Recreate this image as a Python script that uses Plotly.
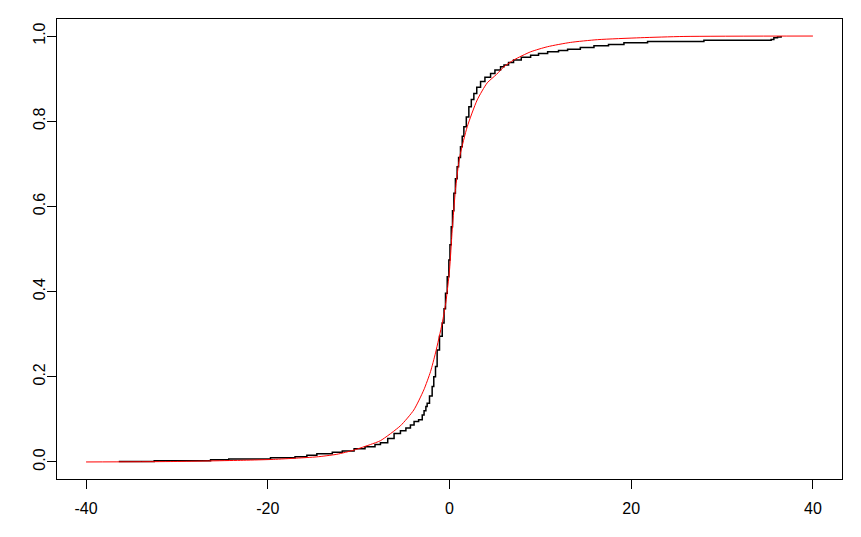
import plotly.graph_objects as go

# Fitted CDF (red)
fit_x = [-40, -30.7, -22.7, -19.4, -16.8, -14.6, -12.4, -10.5, -8.7, -7.6, -5.4, -3.93,
         -2.83, -2.09, -1.54, -0.8, -0.4, 0.0, 0.3, 0.66, 1.0, 1.21, 1.95, 3.05, 4.15,
         5.18, 6.0, 7.09, 8.93, 10.8, 13.3, 16.3, 21.0, 25.8, 40.0]
fit_y = [0.000, 0.001, 0.004, 0.006, 0.009, 0.012, 0.018, 0.028, 0.041, 0.050, 0.085, 0.122,
         0.169, 0.212, 0.256, 0.326, 0.375, 0.450, 0.545, 0.640, 0.700, 0.725, 0.787, 0.850, 0.890,
         0.910, 0.928, 0.944, 0.963, 0.975, 0.985, 0.9915, 0.996, 0.999, 1.000]

ecdf_x = [-36.4, -32.5, -26.3, -24.3, -19.7, -17.0, -15.7, -14.6, -12.9, -11.8, -10.5, -9.3,
          -8.2, -7.6, -6.8, -6.1, -5.4, -4.8, -4.3, -3.9, -3.4, -3.0, -2.8, -2.6, -2.46,
          -2.2, -1.91, -1.73, -1.54, -1.36, -1.1, -0.8, -0.6, -0.44, -0.25, -0.07, 0.05,
          0.19, 0.33, 0.48, 0.65, 0.84, 1.0, 1.21, 1.4, 1.58, 1.85, 2.13, 2.4, 2.68, 3.0,
          3.42, 3.9, 4.52, 5.0, 5.62, 6.0, 6.5, 7.05, 7.9, 8.93, 9.8, 10.8, 12.0, 13.0,
          14.4, 15.9, 17.5, 19.2, 21.8, 28.0, 35.4, 35.7, 36.1, 36.5]
ecdf_y = [0.001, 0.003, 0.005, 0.007, 0.010, 0.012, 0.016, 0.019, 0.023, 0.026, 0.031, 0.036,
          0.041, 0.045, 0.055, 0.067, 0.073, 0.080, 0.087, 0.095, 0.099, 0.110, 0.120, 0.130, 0.138,
          0.155, 0.177, 0.200, 0.224, 0.263, 0.295, 0.326, 0.360, 0.396, 0.435, 0.474, 0.510,
          0.552, 0.590, 0.631, 0.665, 0.693, 0.715, 0.740, 0.765, 0.787, 0.810, 0.834, 0.851, 0.865, 0.880,
          0.893, 0.903, 0.912, 0.920, 0.928, 0.932, 0.938, 0.944, 0.950, 0.955, 0.959, 0.963, 0.966, 0.969,
          0.973, 0.977, 0.980, 0.984, 0.987, 0.990, 0.992, 0.996, 0.998, 1.000]

x_ticks = [-40, -20, 0, 20, 40]
y_ticks = [0.0, 0.2, 0.4, 0.6, 0.8, 1.0]
y_tick_text = ["0.0", "0.2", "0.4", "0.6", "0.8", "1.0"]

fig = go.Figure()
fig.add_trace(go.Scatter(x=ecdf_x, y=ecdf_y, mode="lines", line=dict(color="black", width=1.5, shape="hv"),
                         showlegend=False, hoverinfo="skip"))
fig.add_trace(go.Scatter(x=fit_x, y=fit_y, mode="lines", line=dict(color="red", width=1, shape="spline", smoothing=0.6),
                         showlegend=False, hoverinfo="skip"))

font = dict(family="Liberation Sans, Arial, sans-serif", size=16, color="black")
fig.update_layout(
    width=853, height=529,
    margin=dict(l=49, r=19, t=11, b=58),
    paper_bgcolor="white", plot_bgcolor="white",
    font=font,
    xaxis=dict(range=[-43.2, 43.2], tickvals=x_ticks, ticktext=[str(v) for v in x_ticks],
               showgrid=False, zeroline=False, showline=True, mirror=True, linecolor="black", linewidth=1,
               ticks="outside", ticklen=9, tickcolor="black", tickwidth=1, tickfont=font,
               ticklabelstandoff=6),
    yaxis=dict(range=[-0.04, 1.04], tickvals=y_ticks, ticktext=y_tick_text, tickangle=-90,
               showgrid=False, zeroline=False, showline=True, mirror=True, linecolor="black", linewidth=1,
               ticks="outside", ticklen=9, tickcolor="black", tickwidth=1, tickfont=font,
               ticklabelstandoff=-4),
)
fig.write_html("out.html")
